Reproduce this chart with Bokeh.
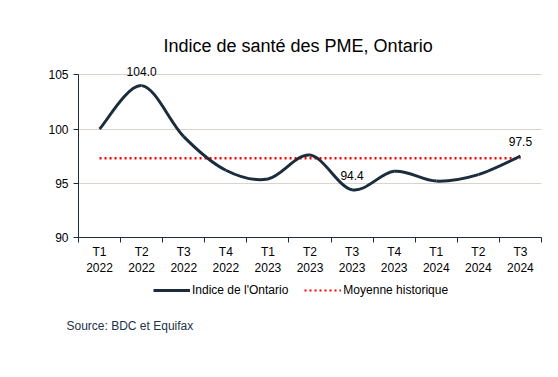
import numpy as np
from bokeh.plotting import figure
from bokeh.layouts import column
from bokeh.models import (ColumnDataSource, FixedTicker, Legend, LegendItem,
                          Range1d, Title)
from bokeh.embed import file_html
from bokeh.resources import INLINE

# ---- data ----
quarters = ["T1", "T2", "T3", "T4", "T1", "T2", "T3", "T4", "T1", "T2", "T3"]
years = ["2022", "2022", "2022", "2022", "2023", "2023", "2023", "2023",
         "2024", "2024", "2024"]
ontario = [100.0, 104.0, 99.3, 96.2, 95.4, 97.6, 94.4, 96.1, 95.2, 95.8, 97.5]
historical_mean = 97.3
labelled_idx = [1, 6, 10]
y_ticks = [90, 95, 100, 105]

title_txt = "Indice de santé des PME, Ontario"
series_name = "Indice de l'Ontario"
mean_name = "Moyenne historique"
source_txt = "Source: BDC et Equifax"

FONT = "Liberation Sans"
NAVY = "#1b2d3c"
RED = "#ff0000"
W = 542
n = len(ontario)
xs = np.arange(n, dtype=float)
ys = np.array(ontario, dtype=float)

# smoothed curve (Catmull-Rom as cubic Bezier segments, like Excel smoothing)
x0, y0, x1, y1, cx0, cy0, cx1, cy1 = ([] for _ in range(8))
for i in range(n - 1):
    im = max(i - 1, 0)
    ip = min(i + 2, n - 1)
    x0.append(xs[i]); y0.append(ys[i])
    x1.append(xs[i + 1]); y1.append(ys[i + 1])
    cx0.append(xs[i] + (xs[i + 1] - xs[im]) / 6)
    cy0.append(ys[i] + (ys[i + 1] - ys[im]) / 6)
    cx1.append(xs[i + 1] - (xs[ip] - xs[i]) / 6)
    cy1.append(ys[i + 1] - (ys[ip] - ys[i]) / 6)
bez = ColumnDataSource(dict(x0=x0, y0=y0, x1=x1, y1=y1,
                            cx0=cx0, cy0=cy0, cx1=cx1, cy1=cy1))

# ================= chart =================
p = figure(width=W, height=279, output_backend="svg", toolbar_location=None,
           x_range=Range1d(-0.5, n - 0.5), y_range=Range1d(y_ticks[0], 106.5),
           min_border_left=78, min_border_right=1, min_border_top=58,
           min_border_bottom=42)
p.outline_line_color = None

p.title.text = title_txt
p.title.align = "left"
p.title.offset = 85
p.title.text_font = FONT
p.title.text_font_size = "18px"
p.title.text_font_style = "normal"
p.title.text_color = "black"
p.title.standoff = 5

p.xgrid.visible = False
p.ygrid.ticker = FixedTicker(ticks=y_ticks[1:])
p.ygrid.grid_line_color = "#d9d3cc"
p.ygrid.grid_line_width = 1

p.yaxis.ticker = FixedTicker(ticks=y_ticks)
p.yaxis.bounds = (y_ticks[0], y_ticks[-1])
p.yaxis.major_tick_out = 5
p.yaxis.major_tick_in = 0
p.yaxis.minor_tick_line_color = None
p.yaxis.axis_line_color = NAVY
p.yaxis.major_tick_line_color = NAVY
p.yaxis.major_label_text_font = FONT
p.yaxis.major_label_text_font_size = "12px"
p.yaxis.major_label_text_color = "black"
p.yaxis.major_label_standoff = 5

p.xaxis.ticker = FixedTicker(ticks=list(range(n)),
                             minor_ticks=[i - 0.5 for i in range(n + 1)])
p.xaxis.major_label_overrides = {i: f"{quarters[i]}\n{years[i]}" for i in range(n)}
p.xaxis.major_tick_out = 0
p.xaxis.major_tick_in = 0
p.xaxis.major_tick_line_color = None
p.xaxis.minor_tick_out = 5
p.xaxis.minor_tick_in = 0
p.xaxis.minor_tick_line_color = NAVY
p.xaxis.axis_line_color = NAVY
p.xaxis.major_label_text_font = FONT
p.xaxis.major_label_text_font_size = "12px"
p.xaxis.major_label_text_color = "black"
p.xaxis.major_label_standoff = 2

p.line(x=[xs[0], xs[-1]], y=[historical_mean, historical_mean],
       line_color=RED, line_width=2.5, line_dash="2 3")
p.bezier(x0="x0", y0="y0", x1="x1", y1="y1", cx0="cx0", cy0="cy0",
         cx1="cx1", cy1="cy1", source=bez, line_color=NAVY, line_width=3)

lab = ColumnDataSource(dict(x=[xs[i] for i in labelled_idx],
                            y=[ys[i] for i in labelled_idx],
                            t=[f"{ontario[i]:.1f}" for i in labelled_idx]))
p.text(x="x", y="y", text="t", source=lab, text_align="center",
       text_baseline="bottom", y_offset=-10, text_font_size="12px",
       text_color="black", text_font={"value": FONT})

# ================= legend + source strip =================
H2 = 82
q = figure(width=W, height=H2, output_backend="svg", toolbar_location=None,
           x_range=Range1d(0, 1), y_range=Range1d(0, 1),
           x_axis_location=None, y_axis_location=None,
           min_border_left=78, min_border_right=1,
           min_border_top=0, min_border_bottom=45)
q.outline_line_color = None
q.grid.visible = False

# hidden copies of the two series, used only to draw the legend swatches
leg_series = q.line(x=xs, y=ys, line_color=NAVY, line_width=3, visible=False)
leg_mean = q.line(x=[xs[0], xs[-1]], y=[historical_mean, historical_mean],
                  line_color=RED, line_width=2, line_dash="2 3", visible=False)

legend = Legend(items=[LegendItem(label=series_name, renderers=[leg_series]),
                       LegendItem(label=mean_name, renderers=[leg_mean])],
                orientation="horizontal", location=(75, 18),
                glyph_width=37, glyph_height=16, label_standoff=2, spacing=16,
                padding=0, margin=0, border_line_color=None,
                background_fill_alpha=0, inactive_fill_alpha=0,
                label_text_font=FONT, label_text_font_size="12px",
                label_text_color="black", label_height=16)
q.add_layout(legend, "center")

src = Title(text=source_txt, align="left", offset=-12, text_font=FONT,
            text_font_size="12px", text_font_style="normal",
            text_color="#1c3347", standoff=1)
q.add_layout(src, "below")

layout = column(p, q, spacing=0)
open("out.html", "w").write(file_html(layout, INLINE))
